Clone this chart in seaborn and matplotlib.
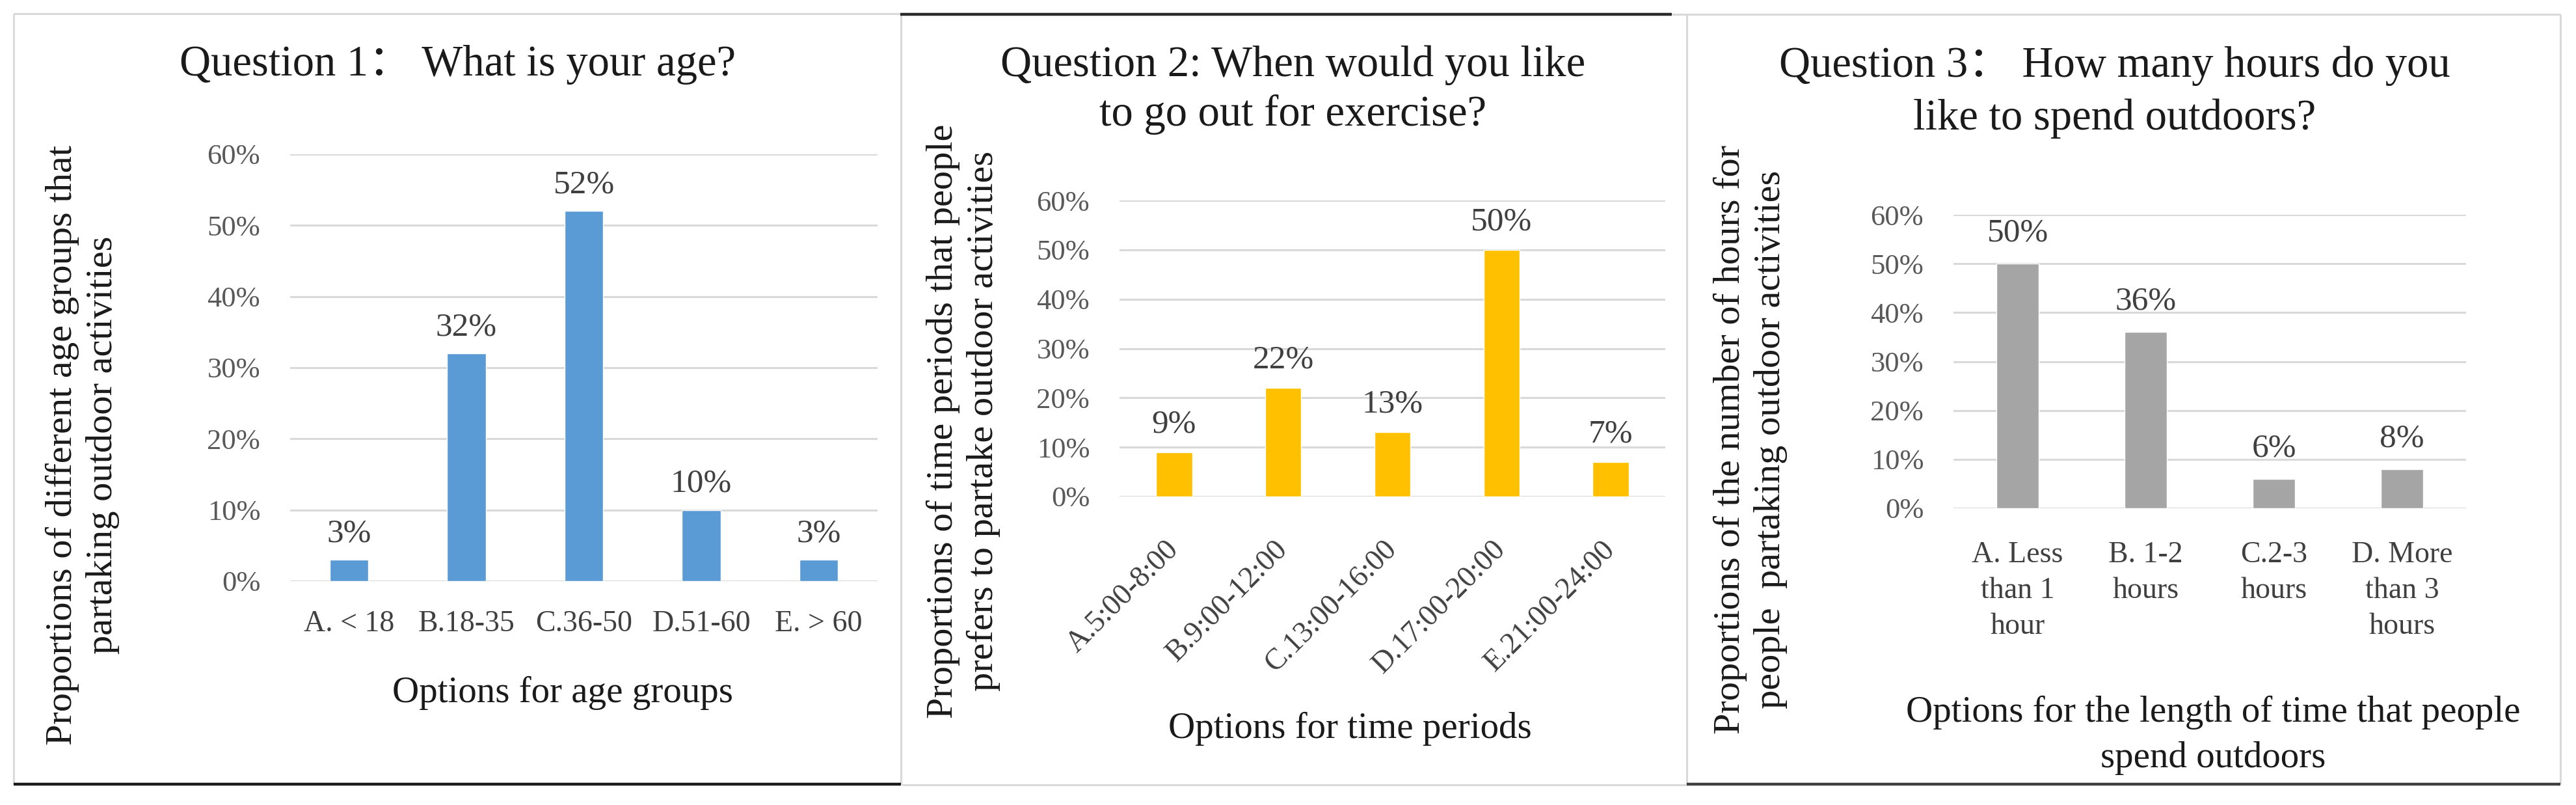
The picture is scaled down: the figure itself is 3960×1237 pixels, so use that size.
import matplotlib
matplotlib.use("Agg")
import matplotlib.pyplot as plt
import seaborn as sns
import pandas as pd
from matplotlib.lines import Line2D
from matplotlib.ticker import PercentFormatter

# canvas size in pixels (dpi 100)
W, H = 3960, 1237

# Question 1 data
q1_options = ['A. < 18', 'B.18-35', 'C.36-50', 'D.51-60', 'E. > 60']
q1_share = [0.03, 0.32, 0.52, 0.10, 0.03]

# Question 2 data
q2_options = ['A.5:00-8:00', 'B.9:00-12:00', 'C.13:00-16:00', 'D.17:00-20:00', 'E.21:00-24:00']
q2_share = [0.09, 0.22, 0.13, 0.50, 0.07]

# Question 3 data
q3_options = ['A. Less\nthan 1\nhour', 'B. 1-2\nhours', 'C.2-3\nhours', 'D. More\nthan 3\nhours']
q3_share = [0.50, 0.36, 0.06, 0.08]

y_ticks = [0.0, 0.1, 0.2, 0.3, 0.4, 0.5, 0.6]

sns.set_theme(style='white')
plt.rcParams['font.family'] = ['Liberation Serif', 'Noto Sans CJK SC', 'DejaVu Sans']

TICK_GREY = '#595959'
LABEL_GREY = '#404040'
GRID_GREY = '#d9d9d9'
TEXT = '#1a1a1a'


def fx(x):
    return x / W


def fy(y):
    return 1 - y / H


def px_box(left, right, top, bottom):
    return [left / W, 1 - bottom / H, (right - left) / W, (bottom - top) / H]


def draw_panel(fig, box, options, shares, color, label_pad, xtick_pad,
               rotate=False, linespacing=1.2):
    ax = fig.add_axes(box)
    df = pd.DataFrame({'option': options, 'share': shares})
    sns.barplot(data=df, x='option', y='share', color=color, saturation=1,
                width=0.33, ax=ax)
    ax.set_ylim(0, 0.6)
    ax.set_xlim(-0.5, len(options) - 0.5)
    ax.set_yticks(y_ticks)
    ax.yaxis.set_major_formatter(PercentFormatter(1.0, decimals=0))
    ax.grid(axis='y', color=GRID_GREY, lw=2.2)
    ax.grid(axis='x', visible=False)
    ax.set_axisbelow(True)
    for side in ['left', 'right', 'top', 'bottom']:
        ax.spines[side].set_visible(False)
    ax.tick_params(axis='y', length=0, pad=33, labelsize=32, labelcolor=TICK_GREY)
    ax.tick_params(axis='x', length=0, pad=xtick_pad, labelsize=33, labelcolor=LABEL_GREY)
    if rotate:
        for t in ax.get_xticklabels():
            t.set_rotation(45)
            t.set_ha('right')
            t.set_va('center')
            t.set_rotation_mode('anchor')
    else:
        for t in ax.get_xticklabels():
            t.set_linespacing(linespacing)
    ax.bar_label(ax.containers[0], labels=[f'{v * 100:.0f}%' for v in shares],
                 padding=label_pad, fontsize=37, color=LABEL_GREY)
    ax.set_xlabel('')
    ax.set_ylabel('')
    return ax


fig = plt.figure(figsize=(W / 100, H / 100), dpi=100)
fig.patch.set_facecolor('white')

draw_panel(fig, px_box(446, 1349, 237, 893), q1_options, q1_share, '#5b9bd5', 12, 32)
draw_panel(fig, px_box(1721, 2560, 308, 763), q2_options, q2_share, '#ffc000', 14, 54, rotate=True)
draw_panel(fig, px_box(3003, 3791, 330, 781), q3_options, q3_share, '#a5a5a5', 17, 36,
           linespacing=1.4)

# titles
fig.text(fx(704), fy(99), 'Question 1\uff1a What is your age?', ha='center', va='center',
         fontsize=48, color=TEXT)
fig.text(fx(1988), fy(138), 'Question 2: When would you like\nto go out for exercise?',
         ha='center', va='center', fontsize=48, color=TEXT, linespacing=1.3)
fig.text(fx(3251), fy(142), 'Question 3\uff1a How many hours do you\nlike to spend outdoors?',
         ha='center', va='center', fontsize=48, color=TEXT, linespacing=1.4)

# y axis titles
ylab = dict(rotation=90, ha='center', va='center', multialignment='center',
            fontsize=42, color=TEXT, linespacing=1.25)
fig.text(fx(127), fy(684), 'Proportions of different age groups that\npartaking outdoor activities', **ylab)
fig.text(fx(1481), fy(647), 'Proportions of time periods that people\nprefers to partake outdoor activities', **ylab)
fig.text(fx(2691), fy(675), 'Proportions of the number of hours for\npeople  partaking outdoor activities', **ylab)

# x axis titles
fig.text(fx(865), fy(1065), 'Options for age groups', ha='center', va='center',
         fontsize=41, color=TEXT)
fig.text(fx(2075), fy(1120), 'Options for time periods', ha='center', va='center',
         fontsize=41, color=TEXT)
fig.text(fx(3402), fy(1130), 'Options for the length of time that people\nspend outdoors',
         ha='center', va='center', multialignment='center', fontsize=41, color=TEXT,
         linespacing=1.45)


def frame_line(x0, y0, x1, y1, color=GRID_GREY, lw=2.2):
    fig.add_artist(Line2D([fx(x0), fx(x1)], [fy(y0), fy(y1)], color=color, lw=lw,
                          transform=fig.transFigure, solid_capstyle='butt'))


# panel frames
frame_line(21, 21, 1385, 21)
frame_line(21, 21, 21, 1205)
frame_line(1385, 21, 1385, 1205)
frame_line(21, 1205, 1385, 1205, color='#1a1a1a', lw=3.2)
frame_line(1386, 1206, 2593, 1206)
frame_line(2593, 22, 2593, 1206)
frame_line(1384, 22, 2570, 22, color='#2a2a2a', lw=3.2)
frame_line(2570, 22, 3936, 22)
frame_line(3936, 22, 3936, 1205)
frame_line(2593, 1205, 3936, 1205, color='#404040', lw=3.2)

fig.savefig('out.png', dpi=100)
